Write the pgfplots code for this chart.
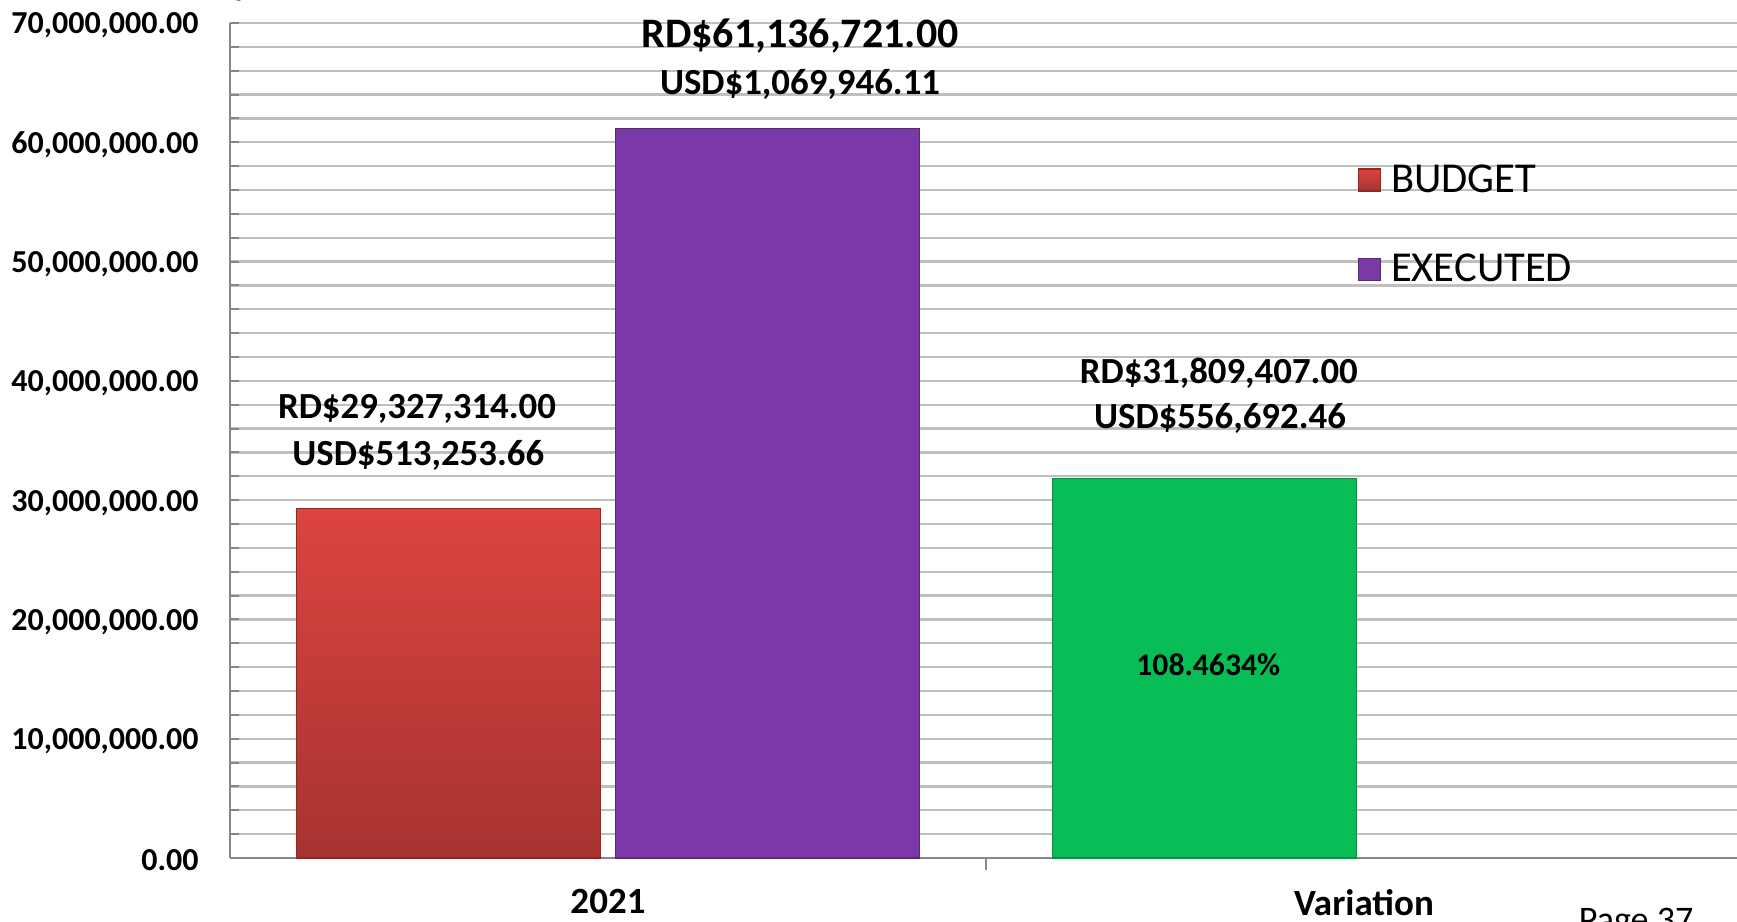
\documentclass[border=0pt]{standalone}
\usepackage{pgfplots}
\pgfplotsset{compat=1.18}
\usepackage{fontspec}
\setmainfont{Carlito}
\definecolor{gridgray}{RGB}{191,191,191}
\definecolor{axgray}{RGB}{134,134,134}
\definecolor{redtop}{RGB}{220,68,64}
\definecolor{redbot}{RGB}{166,51,48}
\definecolor{rededge}{RGB}{140,40,38}
\definecolor{purp}{RGB}{122,56,168}
\definecolor{purpedge}{RGB}{85,45,110}
\definecolor{grn}{RGB}{8,189,86}
\definecolor{grnedge}{RGB}{20,140,70}
\begin{document}
\begin{tikzpicture}
\begin{axis}[
  name=ax,
  scale only axis,
  width=756pt, height=417.5pt,
  xmin=-0.5, xmax=1.5,
  ymin=0, ymax=70000000,
  clip=false,
  axis lines=left,
  axis line style={-, draw=axgray, line width=1pt},
  ybar, bar shift=0pt, bar width=0.403,
  xtick={0,1},
  xticklabels={2021,Variation},
  xtick style={draw=none},
  xticklabel style={font=\fontsize{18.5}{22}\selectfont\bfseries, inner sep=0pt, yshift=-15.5pt},
  extra x ticks={0.5},
  extra x tick labels={},
  extra x tick style={grid=none, tick align=outside, major tick length=6pt, xtick style={draw=axgray, line width=1pt}},
  ytick={0,10000000,20000000,30000000,40000000,50000000,60000000,70000000},
  yticklabels={{0.00},{10,000,000.00},{20,000,000.00},{30,000,000.00},{40,000,000.00},{50,000,000.00},{60,000,000.00},{70,000,000.00}},
  yticklabel style={font=\fontsize{16}{19}\selectfont\bfseries, inner sep=0pt, xshift=-15.5pt, yshift=-1.3pt},
  minor y tick num=4,
  ymajorgrids, yminorgrids,
  major grid style={draw=gridgray, line width=1.1pt},
  minor grid style={draw=gridgray, line width=1.1pt},
  ytick style={draw=axgray, line width=1pt},
  tick align=inside,
  major tick length=4.5pt, minor tick length=4.5pt,
  legend style={at={(0.7457,0.8356)}, anchor=north west, draw=none, fill=none,
    font=\fontsize{21.3}{25}\selectfont, row sep=25.5pt, inner sep=0pt,
    nodes={inner xsep=5pt}},
  legend cell align=left,
  legend image code/.code={\fill[#1] (0.5pt,-5.5pt) rectangle (11.5pt,5.5pt);},
]
\addplot[top color=redtop, bottom color=redbot, draw=rededge, line width=0.6pt] coordinates {(-0.211,29327314)};
\addlegendentry{BUDGET}
\addplot[fill=purp, draw=purpedge, line width=0.6pt] coordinates {(0.211,61136721)};
\addlegendentry{EXECUTED}
\addplot[fill=grn, draw=grnedge, line width=0.6pt, forget plot] coordinates {(0.789,31809407)};

\node[anchor=base, font=\fontsize{21}{25}\selectfont\bfseries] at (axis cs:0.254,67950000) {RD\$61,136,721.00};
\node[anchor=base, font=\fontsize{18.4}{22}\selectfont\bfseries] at (axis cs:0.254,64020000) {USD\$1,069,946.11};
\node[anchor=base, font=\fontsize{18.4}{22}\selectfont\bfseries] at (axis cs:-0.2526,36820000) {RD\$29,327,314.00};
\node[anchor=base, font=\fontsize{18.4}{22}\selectfont\bfseries] at (axis cs:-0.251,32900000) {USD\$513,253.66};
\node[anchor=base, font=\fontsize{18.4}{22}\selectfont\bfseries] at (axis cs:0.808,39800000) {RD\$31,809,407.00};
\node[anchor=base, font=\fontsize{18.4}{22}\selectfont\bfseries] at (axis cs:0.8095,36030000) {USD\$556,692.46};
\node[anchor=base, font=\fontsize{15.8}{19}\selectfont\bfseries] at (axis cs:0.794,15340000) {108.4634\%};
\node[anchor=base west, font=\fontsize{18}{21}\selectfont] at (axis cs:1.275,-6200000) {Page 37};
\end{axis}
\pgfresetboundingbox
\path[use as bounding box] (ax.south west) ++(-115pt,-32pt) rectangle ++(868.5pt,461pt);
\end{tikzpicture}
\end{document}
